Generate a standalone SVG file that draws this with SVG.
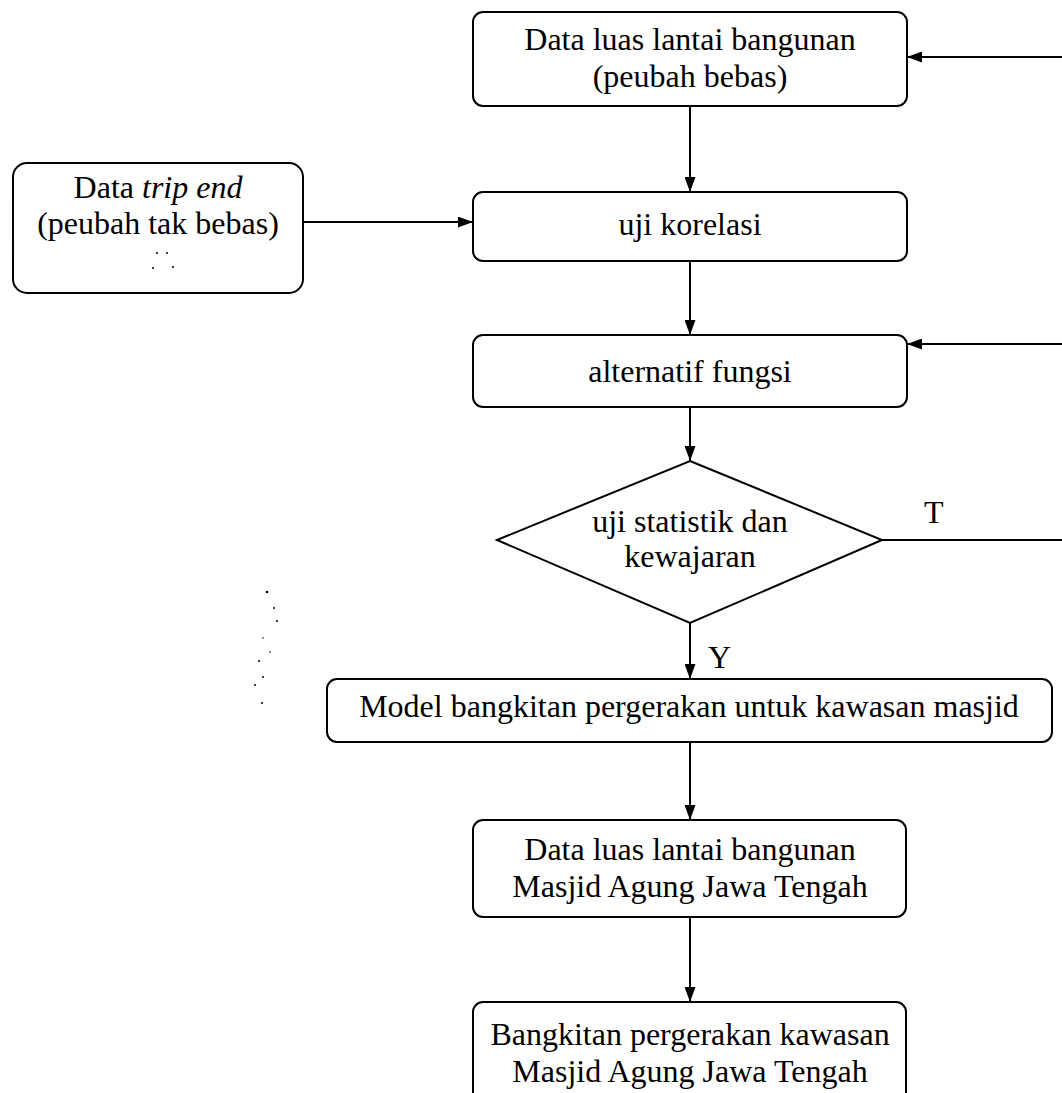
<svg xmlns="http://www.w3.org/2000/svg" width="1062" height="1093" viewBox="0 0 1062 1093">
<defs>
<style>
.box{fill:#fff;stroke:#000;stroke-width:2}
.t{font-family:"Liberation Serif","Times New Roman",serif;font-size:32px;fill:#000;text-anchor:middle}
.lbl{font-family:"Liberation Serif","Times New Roman",serif;font-size:32px;fill:#000}
.c{fill:none;stroke:#000;stroke-width:2}
.dot{fill:#000}
</style>
<marker id="ah" viewBox="0 0 15 11" refX="15" refY="5.5" markerWidth="15" markerHeight="11" markerUnits="userSpaceOnUse" orient="auto">
<path d="M0,0 L15,5.5 L0,11 z" fill="#000"/>
</marker>
</defs>
<rect width="1062" height="1093" fill="#fff"/>
<g id="connectors">
<line class="c" x1="690" y1="106" x2="690" y2="192" marker-end="url(#ah)"/>
<line class="c" x1="303" y1="222" x2="473" y2="222" marker-end="url(#ah)"/>
<line class="c" x1="690" y1="261" x2="690" y2="335" marker-end="url(#ah)"/>
<line class="c" x1="690" y1="407" x2="690" y2="461" marker-end="url(#ah)"/>
<path class="c" d="M882,540 H1066 V57"/>
<line class="c" x1="1066" y1="57" x2="907" y2="57" marker-end="url(#ah)"/>
<line class="c" x1="1066" y1="344" x2="907" y2="344" marker-end="url(#ah)"/>
<line class="c" x1="690" y1="623" x2="690" y2="679" marker-end="url(#ah)"/>
<line class="c" x1="690" y1="742" x2="690" y2="820" marker-end="url(#ah)"/>
<line class="c" x1="690" y1="917" x2="690" y2="1002" marker-end="url(#ah)"/>
<text class="lbl" x="924" y="523">T</text>
<text class="lbl" x="708" y="668">Y</text>
</g>
<g id="node-data-luas">
<rect class="box" x="473" y="12" width="434" height="94" rx="10"/>
<text class="t" x="690" y="50">Data luas lantai bangunan</text>
<text class="t" x="690" y="87">(peubah bebas)</text>
</g>
<g id="node-trip-end">
<rect class="box" x="13" y="163" width="290" height="130" rx="14"/>
<text class="t" x="158" y="198">Data <tspan font-style="italic">trip end</tspan></text>
<text class="t" x="158" y="234">(peubah tak bebas)</text>
</g>
<g id="node-uji-korelasi">
<rect class="box" x="473" y="192" width="434" height="69" rx="10"/>
<text class="t" x="690" y="235">uji korelasi</text>
</g>
<g id="node-alternatif">
<rect class="box" x="473" y="335" width="434" height="72" rx="10"/>
<text class="t" x="690" y="382">alternatif fungsi</text>
</g>
<g id="node-uji-statistik">
<polygon class="box" points="690,461 882,540 690,623 497,540"/>
<text class="t" x="690" y="532">uji statistik dan</text>
<text class="t" x="690" y="567">kewajaran</text>
</g>
<g id="node-model">
<rect class="box" x="327" y="679" width="725" height="63" rx="10"/>
<text class="t" x="689" y="717">Model bangkitan pergerakan untuk kawasan masjid</text>
</g>
<g id="node-data-masjid">
<rect class="box" x="473" y="820" width="433" height="97" rx="10"/>
<text class="t" x="690" y="860">Data luas lantai bangunan</text>
<text class="t" x="690" y="897">Masjid Agung Jawa Tengah</text>
</g>
<g id="node-bangkitan">
<rect class="box" x="473" y="1002" width="433" height="120" rx="10"/>
<text class="t" x="690" y="1045">Bangkitan pergerakan kawasan</text>
<text class="t" x="690" y="1082">Masjid Agung Jawa Tengah</text>
</g>
<g id="scan-specks">
<circle class="dot" cx="157" cy="253" r="1"/>
<circle class="dot" cx="167" cy="253" r="1"/>
<circle class="dot" cx="153" cy="268" r="1"/>
<circle class="dot" cx="173" cy="267" r="1"/>
<circle class="dot" cx="267" cy="592" r="1.3"/>
<circle class="dot" cx="274" cy="608" r="1"/>
<circle class="dot" cx="277" cy="621" r="1"/>
<circle class="dot" cx="263" cy="638" r="0.8"/>
<circle class="dot" cx="270" cy="652" r="0.8"/>
<circle class="dot" cx="259" cy="661" r="1"/>
<circle class="dot" cx="263" cy="677" r="1"/>
<circle class="dot" cx="255" cy="685" r="1"/>
<circle class="dot" cx="262" cy="703" r="1"/>
</g>
</svg>
